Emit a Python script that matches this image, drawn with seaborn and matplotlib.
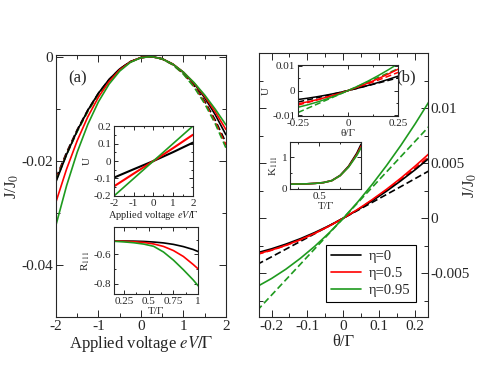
import numpy as np
import pandas as pd
import matplotlib
matplotlib.use("Agg")
import matplotlib.pyplot as plt
from matplotlib.lines import Line2D
from matplotlib.ticker import MultipleLocator
import seaborn as sns

# ---- panel (a): J/J0 vs applied voltage ----
volt = [-2.0, -1.75, -1.5, -1.25, -1.0, -0.75, -0.5, -0.25, 0.0, 0.25, 0.5, 0.75, 1.0, 1.25, 1.5, 1.75, 2.0]
ja_black = [-0.02401, -0.01878, -0.01421, -0.01030, -0.00702, -0.00438, -0.00237, -0.00098, -0.00019, -0.00001,
            -0.00043, -0.00144, -0.00302, -0.00517, -0.00789, -0.01117, -0.01500]
ja_red = [-0.02788, -0.02157, -0.01613, -0.01155, -0.00778, -0.00480, -0.00256, -0.00104, -0.00020, -0.00001,
          -0.00044, -0.00144, -0.00300, -0.00506, -0.00761, -0.01060, -0.01400]
ja_green = [-0.03231, -0.02476, -0.01834, -0.01300, -0.00867, -0.00528, -0.00279, -0.00112, -0.00022, -0.00001,
            -0.00045, -0.00147, -0.00301, -0.00500, -0.00738, -0.01011, -0.01310]
ja_black_d = [-0.02330, -0.01838, -0.01402, -0.01024, -0.00703, -0.00442, -0.00241, -0.00100, -0.00020, -0.00001,
              -0.00045, -0.00151, -0.00322, -0.00556, -0.00855, -0.01220, -0.01650]
ja_red_d = [-0.02360, -0.01863, -0.01423, -0.01040, -0.00716, -0.00450, -0.00246, -0.00102, -0.00020, -0.00001,
            -0.00046, -0.00156, -0.00330, -0.00571, -0.00879, -0.01254, -0.01700]
ja_green_d = [-0.02380, -0.01881, -0.01439, -0.01053, -0.00725, -0.00458, -0.00250, -0.00104, -0.00021, -0.00001,
              -0.00047, -0.00159, -0.00338, -0.00585, -0.00903, -0.01290, -0.01750]

# inset a1: U vs voltage
volt_u = [-2, -1, 0, 1, 2]
ua_black = [-0.095, -0.047, 0.0, 0.051, 0.105]
ua_red = [-0.145, -0.072, 0.0, 0.074, 0.150]
ua_green = [-0.200, -0.100, 0.0, 0.100, 0.200]

# inset a2: R_111 vs T
temp = [0.15, 0.25, 0.35, 0.45, 0.55, 0.65, 0.75, 0.85, 0.95, 1.0]
r_black = [-0.510, -0.510, -0.511, -0.513, -0.517, -0.523, -0.533, -0.548, -0.568, -0.582]
r_red = [-0.510, -0.512, -0.515, -0.520, -0.530, -0.547, -0.575, -0.615, -0.670, -0.700]
r_green = [-0.512, -0.516, -0.522, -0.531, -0.546, -0.585, -0.640, -0.705, -0.775, -0.815]

# ---- panel (b): J/J0 vs theta ----
theta = [-0.24, -0.20, -0.16, -0.12, -0.08, -0.04, 0.0, 0.04, 0.08, 0.12, 0.16, 0.20, 0.24]
jb_black = [-0.00315, -0.00279, -0.00236, -0.00187, -0.00131, -0.00069, 0.0, 0.00075, 0.00157, 0.00245, 0.00340,
            0.00441, 0.00549]
jb_red = [-0.00326, -0.00290, -0.00247, -0.00196, -0.00138, -0.00072, 0.0, 0.00080, 0.00168, 0.00262, 0.00364,
          0.00474, 0.00591]
jb_green = [-0.00622, -0.00549, -0.00464, -0.00366, -0.00257, -0.00135, 0.0, 0.00147, 0.00306, 0.00478, 0.00662,
            0.00859, 0.01068]
jb_black_d = [-0.00421, -0.00352, -0.00282, -0.00212, -0.00142, -0.00071, 0.0, 0.00071, 0.00143, 0.00215, 0.00287,
              0.00360, 0.00433]
jb_red_d = [-0.00330, -0.00292, -0.00248, -0.00197, -0.00139, -0.00073, 0.0, 0.00078, 0.00163, 0.00254, 0.00352,
            0.00455, 0.00565]
jb_green_d = [-0.00840, -0.00700, -0.00560, -0.00420, -0.00280, -0.00140, 0.0, 0.00140, 0.00280, 0.00420, 0.00560,
              0.00700, 0.00840]

# inset b1: U vs theta
theta_u = [-0.25, -0.2, -0.15, -0.1, -0.05, 0.0, 0.05, 0.1, 0.15, 0.2, 0.25]
ub_black = [-0.0036, -0.00306, -0.00242, -0.0017, -0.0009, 0.0, 0.00098, 0.00206, 0.00322, 0.00446, 0.0058]
ub_black_d = [-0.0046, -0.00372, -0.00282, -0.0019, -0.00096, 0.0, 0.00098, 0.00198, 0.003, 0.00404, 0.0051]
ub_red = [-0.0053, -0.0045, -0.00358, -0.00252, -0.00132, 0.0, 0.00146, 0.00304, 0.00476, 0.00662, 0.0086]
ub_red_d = [-0.0058, -0.00476, -0.00366, -0.0025, -0.00128, 0.0, 0.00134, 0.00274, 0.0042, 0.00572, 0.0073]
ub_green = [-0.0067, -0.00569, -0.00451, -0.00317, -0.00167, 0.0, 0.00183, 0.00383, 0.00599, 0.00831, 0.0108]
ub_green_d = [-0.0088, -0.00704, -0.00528, -0.00352, -0.00176, 0.0, 0.00176, 0.00352, 0.00528, 0.00704, 0.0088]

# inset b2: K_111 vs T
k_black = [0.15, 0.155, 0.16, 0.175, 0.20, 0.265, 0.43, 0.72, 1.14, 1.42]
k_red = [0.15, 0.155, 0.16, 0.175, 0.20, 0.26, 0.42, 0.70, 1.10, 1.36]
k_green = [0.15, 0.155, 0.16, 0.175, 0.20, 0.26, 0.42, 0.69, 1.07, 1.31]

labels = ['η=0', 'η=0.5', 'η=0.95']
colors = ['black', '#ff0000', '#1e9a1e']

sns.set_style("ticks")
plt.rcParams['font.family'] = ['Liberation Serif', 'DejaVu Serif']
plt.rcParams['mathtext.fontset'] = 'stix'
plt.rcParams['axes.linewidth'] = 0.8

fig = plt.figure(figsize=(4.84, 3.74), dpi=100)
ax_a = fig.add_axes([0.1157, 0.152, 0.351, 0.701])
ax_b = fig.add_axes([0.535, 0.152, 0.349, 0.706])
ins_a1 = fig.add_axes([0.2355, 0.476, 0.163, 0.187])
ins_a2 = fig.add_axes([0.2355, 0.214, 0.174, 0.179])
ins_b1 = fig.add_axes([0.616, 0.690, 0.207, 0.136])
ins_b2 = fig.add_axes([0.599, 0.495, 0.147, 0.126])

DASH = (4, 2)


def draw(ax, x, y, color, dashed=False, lw=1.2):
    if dashed:
        sns.lineplot(x=x, y=y, ax=ax, color=color, lw=lw, linestyle=(0, DASH), sort=False)
    else:
        sns.lineplot(x=x, y=y, ax=ax, color=color, lw=lw, sort=False)


def style_ticks(ax, size, length=4):
    ax.tick_params(which='both', direction='in', top=True, right=True, labelsize=size, pad=2)
    ax.tick_params(which='major', length=length, width=0.7)
    ax.tick_params(which='minor', length=length * 0.6, width=0.7)


# panel (a)
for yd, c in zip([ja_black_d, ja_red_d, ja_green_d], colors):
    draw(ax_a, volt, yd, c, dashed=True)
for ys, c in zip([ja_black, ja_red, ja_green], colors):
    draw(ax_a, volt, ys, c)
ax_a.set_xlim(-2, 2)
ax_a.set_ylim(-0.05, 0.0003)
ax_a.set_xticks([-2, -1, 0, 1, 2])
ax_a.set_xticklabels(['-2', '-1', '0', '1', '2'])
ax_a.xaxis.set_minor_locator(MultipleLocator(0.5))
ax_a.set_yticks([0, -0.02, -0.04])
ax_a.set_yticklabels(['0', '-0.02', '-0.04'])
ax_a.yaxis.set_minor_locator(MultipleLocator(0.01))
style_ticks(ax_a, 11, 5)
ax_a.set_xlabel(r'Applied voltage $eV/\Gamma$', fontsize=12, labelpad=1)
ax_a.set_ylabel(r'J/J$_0$', fontsize=12, labelpad=0)
ax_a.text(0.07, 0.94, '(a)', transform=ax_a.transAxes, fontsize=12, va='top')

# inset a1
for yu, c in zip([ua_black, ua_red, ua_green], colors):
    draw(ins_a1, volt_u, yu, c, lw=1.5 if c != colors[2] else 1.2)
ins_a1.set_xlim(-2, 2)
ins_a1.set_ylim(-0.2, 0.2)
ins_a1.set_xticks([-2, -1, 0, 1, 2])
ins_a1.set_xticklabels(['-2', '-1', '0', '1', '2'])
ins_a1.xaxis.set_minor_locator(MultipleLocator(0.5))
ins_a1.set_yticks([-0.2, -0.1, 0, 0.1, 0.2])
ins_a1.set_yticklabels(['-0.2', '-0.1', '0', '0.1', '0.2'])
ins_a1.yaxis.set_minor_locator(MultipleLocator(0.05))
style_ticks(ins_a1, 8, 3)
ins_a1.set_xlabel(r'Applied voltage $eV/\Gamma$', fontsize=7.5, labelpad=1)
ins_a1.set_ylabel('U', fontsize=8, labelpad=1)

# inset a2
for yr, c in zip([r_black, r_red, r_green], colors):
    draw(ins_a2, temp, yr, c)
ins_a2.set_xlim(0.15, 1.0)
ins_a2.set_ylim(-0.87, -0.415)
ins_a2.set_xticks([0.25, 0.5, 0.75, 1.0])
ins_a2.set_xticklabels(['0.25', '0.5', '0.75', '1'])
ins_a2.xaxis.set_minor_locator(MultipleLocator(0.125))
ins_a2.set_yticks([-0.6, -0.8])
ins_a2.set_yticklabels(['-0.6', '-0.8'])
ins_a2.yaxis.set_minor_locator(MultipleLocator(0.1))
style_ticks(ins_a2, 8, 3)
ins_a2.set_xlabel('T/Γ', fontsize=8, labelpad=1)
ins_a2.set_ylabel(r'R$_{111}$', fontsize=8, labelpad=1)

# panel (b)
for yd, c in zip([jb_black_d, jb_red_d, jb_green_d], colors):
    draw(ax_b, theta, yd, c, dashed=True)
for ys, c in zip([jb_black, jb_red, jb_green], colors):
    draw(ax_b, theta, ys, c)
ax_b.set_xlim(-0.235, 0.235)
ax_b.set_ylim(-0.009, 0.015)
ax_b.set_xticks([-0.2, -0.1, 0, 0.1, 0.2])
ax_b.set_xticklabels(['-0.2', '-0.1', '0', '0.1', '0.2'])
ax_b.xaxis.set_minor_locator(MultipleLocator(0.05))
ax_b.set_yticks([-0.005, 0, 0.005, 0.01])
ax_b.set_yticklabels(['-0.005', '0', '0.005', '0.01'])
ax_b.yaxis.set_minor_locator(MultipleLocator(0.0025))
style_ticks(ax_b, 11, 5)
ax_b.yaxis.tick_right()
ax_b.tick_params(which='both', left=True, right=True, labelleft=False, labelright=True)
ax_b.yaxis.set_label_position('right')
ax_b.set_ylabel(r'J/J$_0$', fontsize=12, labelpad=-6)
ax_b.set_xlabel('θ/Γ', fontsize=12, labelpad=1)
ax_b.text(0.93, 0.94, '(b)', transform=ax_b.transAxes, fontsize=12, va='top', ha='right')
handles = [Line2D([0], [0], color=c, lw=1.2) for c in colors]
leg = ax_b.legend(handles, labels, loc='lower right', fontsize=10.5, frameon=True, fancybox=False,
                  edgecolor='black', framealpha=1, handlelength=2.0, handletextpad=0.6, borderpad=0.35,
                  labelspacing=0.25, borderaxespad=0, bbox_to_anchor=(0.93, 0.057))
leg.get_frame().set_linewidth(0.8)

# inset b1
for yd, c in zip([ub_black_d, ub_red_d, ub_green_d], colors):
    draw(ins_b1, theta_u, yd, c, dashed=True, lw=1.1)
for ys, c in zip([ub_black, ub_red, ub_green], colors):
    draw(ins_b1, theta_u, ys, c, lw=1.1)
ins_b1.set_xlim(-0.25, 0.25)
ins_b1.set_ylim(-0.0102, 0.0102)
ins_b1.set_xticks([-0.25, 0, 0.25])
ins_b1.set_xticklabels(['-0.25', '0', '0.25'])
ins_b1.xaxis.set_minor_locator(MultipleLocator(0.125))
ins_b1.set_yticks([-0.01, 0, 0.01])
ins_b1.set_yticklabels(['-0.01', '0', '0.01'])
ins_b1.yaxis.set_minor_locator(MultipleLocator(0.005))
style_ticks(ins_b1, 8, 3)
ins_b1.set_xlabel('θ/Γ', fontsize=8, labelpad=1)
ins_b1.set_ylabel('U', fontsize=8, labelpad=1)

# inset b2
for yk, c in zip([k_black, k_red, k_green], colors):
    draw(ins_b2, temp, yk, c)
ins_b2.set_xlim(0.15, 1.0)
ins_b2.set_ylim(0, 1.5)
ins_b2.set_xticks([0.5])
ins_b2.set_xticklabels(['0.5'])
ins_b2.xaxis.set_minor_locator(MultipleLocator(0.25))
ins_b2.set_yticks([0, 1])
ins_b2.set_yticklabels(['0', '1'])
ins_b2.yaxis.set_minor_locator(MultipleLocator(0.5))
style_ticks(ins_b2, 8, 3)
ins_b2.set_xlabel('T/Γ', fontsize=8, labelpad=1)
ins_b2.set_ylabel(r'K$_{111}$', fontsize=8, labelpad=1)

for ax in [ax_a, ax_b, ins_a1, ins_a2, ins_b1, ins_b2]:
    for s in ax.spines.values():
        s.set_visible(True)
        s.set_linewidth(0.8)

fig.savefig('out.png', dpi=100)
